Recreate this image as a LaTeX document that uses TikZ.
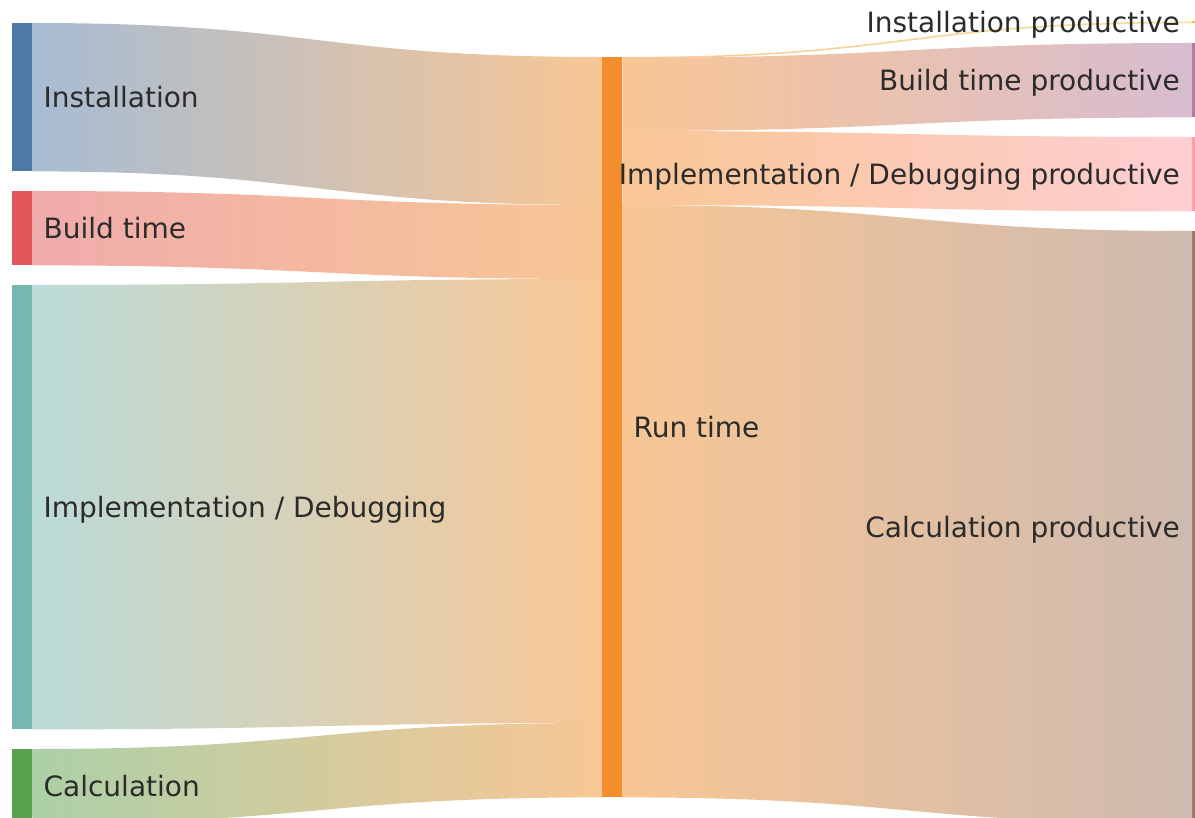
\documentclass[tikz,border=0pt]{standalone}
\usepackage{fontspec}
\setmainfont{DejaVu Sans}
\usetikzlibrary{calc}

% Tableau-style palette
\definecolor{cinst}{HTML}{4E79A7}
\definecolor{cbuild}{HTML}{E15759}
\definecolor{cimpl}{HTML}{76B7B2}
\definecolor{ccalc}{HTML}{59A14F}
\definecolor{crun}{HTML}{F28E2B}
\definecolor{cinstp}{HTML}{EDC948}
\definecolor{cbuildp}{HTML}{B07AA1}
\definecolor{cimplp}{HTML}{FF9DA7}
\definecolor{ccalcp}{HTML}{9C755F}
\definecolor{labelink}{HTML}{2B2B2B}

% flow band: #1 source top, #2 source bottom, #3 target top, #4 target bottom,
% #5 colour at the source, #6 colour at the target
\newcommand\sankeyflow[6]{%
  \shade[left color=#5!50!white,right color=#6!50!white]
    (#1) to[out=0,in=180,looseness=1.275] (#3) -- (#4)
         to[out=180,in=0,looseness=1.275] (#2) -- cycle;}

\begin{document}
\begin{tikzpicture}[x=1pt,y=-1pt,
  bar/.style={rectangle,inner sep=0pt,minimum width=20pt,anchor=north west},
  lbl/.style={inner sep=0pt,text=labelink,font=\fontsize{28}{33}\selectfont},
  lleft/.style={lbl,anchor=base west},
  lright/.style={lbl,anchor=base east}]
\useasboundingbox (0,0) rectangle (1195,818);
\clip (0,0) rectangle (1195,818);

% source nodes
\node[bar,fill=cinst,minimum height=148pt] (inst) at (12,23) {};
\node[bar,fill=cbuild,minimum height=74pt] (build) at (12,191) {};
\node[bar,fill=cimpl,minimum height=444pt] (impl) at (12,285) {};
\node[bar,fill=ccalc,minimum height=74pt] (calc) at (12,749) {};
% intermediate node
\node[bar,fill=crun,minimum height=740pt] (run) at (602,57) {};
% target nodes
\node[bar,fill=cinstp,minimum height=1.5pt] (instp) at (1192,21.5) {};
\node[bar,fill=cbuildp,minimum height=74pt] (buildp) at (1192,43) {};
\node[bar,fill=cimplp,minimum height=74pt] (implp) at (1192,137) {};
\node[bar,fill=ccalcp,minimum height=592pt] (calcp) at (1192,231) {};

% flows into the run time node
\sankeyflow{inst.north east}{inst.south east}
  {$(run.north west)$}{$(run.north west)+(0,148)$}{cinst}{crun}
\sankeyflow{build.north east}{build.south east}
  {$(run.north west)+(0,148)$}{$(run.north west)+(0,222)$}{cbuild}{crun}
\sankeyflow{impl.north east}{impl.south east}
  {$(run.north west)+(0,222)$}{$(run.north west)+(0,666)$}{cimpl}{crun}
\sankeyflow{calc.north east}{calc.south east}
  {$(run.north west)+(0,666)$}{run.south west}{ccalc}{crun}

% flows out of the run time node
\sankeyflow{run.north east}{$(run.north east)+(0,1.5)$}
  {instp.north west}{instp.south west}{crun}{cinstp}
\sankeyflow{$(run.north east)+(0,0.8)$}{$(run.north east)+(0,74)$}
  {buildp.north west}{buildp.south west}{crun}{cbuildp}
\sankeyflow{$(run.north east)+(0,74)$}{$(run.north east)+(0,148)$}
  {implp.north west}{implp.south west}{crun}{cimplp}
\sankeyflow{$(run.north east)+(0,148)$}{run.south east}
  {calcp.north west}{calcp.south west}{crun}{ccalcp}

% redraw the bars over the band edges
\fill[crun] (run.north west) rectangle (run.south east);
\fill[cinstp] (instp.north west) rectangle (instp.south east);

% labels
\node[lleft] (instl) at ($(inst.east)+(11,10.1)$) {Installation};
\node[lleft] (buildl) at ($(build.east)+(11,10.1)$) {Build time};
\node[lleft] (impll) at ($(impl.east)+(11,10.1)$) {Implementation / Debugging};
\node[lleft] (calcl) at ($(calc.east)+(11,10.1)$) {Calculation};
\node[lleft] (runl) at ($(run.east)+(11,10.1)$) {Run time};
\node[lright] (instpl) at ($(instp.west)+(-12,10.1)$) {Installation productive};
\node[lright] (buildpl) at ($(buildp.west)+(-12,10.1)$) {Build time productive};
\node[lright] (implpl) at ($(implp.west)+(-12,10.1)$) {Implementation / Debugging productive};
\node[lright] (calcpl) at ($(calcp.west)+(-12,10.1)$) {Calculation productive};
\end{tikzpicture}
\end{document}
